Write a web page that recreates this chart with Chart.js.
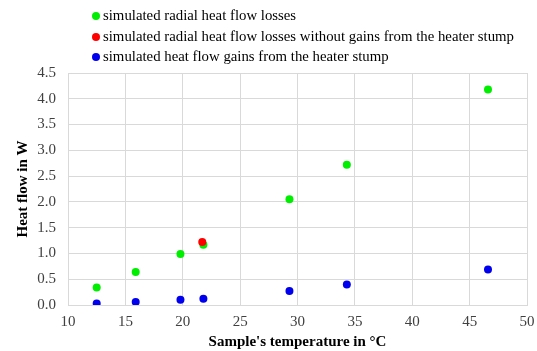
<!DOCTYPE html>
<html>
<head>
<meta charset="utf-8">
<script src="https://cdn.jsdelivr.net/npm/chart.js@4"></script>
<style>
  html, body { margin: 0; padding: 0; background: #fff; }
  #wrap { position: relative; width: 537px; height: 351px; }
  #legend { position: absolute; left: 92px; top: 5px; font-family: "Liberation Serif", "Times New Roman", serif; font-size: 14.8px; color: #000; }
  #legend div { height: 20.5px; line-height: 20.5px; white-space: nowrap; }
  #legend span.dot { display: inline-block; width: 8px; height: 8px; border-radius: 50%; margin-right: 3px; vertical-align: 0px; }
</style>
</head>
<body>
<div id="wrap">
  <canvas id="chart" width="537" height="351"></canvas>
  <div id="legend"></div>
</div>
<script>
const lossTemps = [12.5, 15.9, 19.8, 21.8, 29.3, 34.3, 46.6];
const lossValues = [0.34, 0.64, 0.99, 1.17, 2.05, 2.72, 4.18];

const noStumpTemps = [21.7];
const noStumpValues = [1.22];

const gainTemps = [12.5, 15.9, 19.8, 21.8, 29.3, 34.3, 46.6];
const gainValues = [0.03, 0.06, 0.10, 0.12, 0.27, 0.40, 0.69];

const labels = [
  'simulated radial heat flow losses',
  'simulated radial heat flow losses without gains from the heater stump',
  'simulated heat flow gains from the heater stump',
];
const colors = ['#00ee00', '#ff0000', '#0000ee'];

const toPoints = (xs, ys) => xs.map((x, i) => ({ x, y: ys[i] }));

const datasets = [
  { label: labels[0], data: toPoints(lossTemps, lossValues), backgroundColor: colors[0], order: 3 },
  { label: labels[1], data: toPoints(noStumpTemps, noStumpValues), backgroundColor: colors[1], order: 2 },
  { label: labels[2], data: toPoints(gainTemps, gainValues), backgroundColor: colors[2], order: 1 },
].map(ds => ({ ...ds, borderWidth: 0, pointRadius: 4, pointHoverRadius: 4 }));

document.getElementById('legend').innerHTML = datasets
  .map(ds => `<div><span class="dot" style="background:${ds.backgroundColor}"></span>${ds.label}</div>`)
  .join('');

const serif = 'Liberation Serif';
const tickColor = '#404040';

new Chart(document.getElementById('chart'), {
  type: 'scatter',
  data: { datasets },
  options: {
    responsive: false,
    animation: false,
    layout: { padding: { top: 73, right: 10, left: 0, bottom: 0 } },
    plugins: { legend: { display: false }, tooltip: { enabled: false } },
    scales: {
      x: {
        min: 10,
        max: 50,
        afterFit: scale => {
          scale.height = 46;
          scale.paddingLeft = 0;
          scale.paddingRight = 0;
        },
        ticks: { stepSize: 5, color: tickColor, font: { family: serif, size: 15 }, padding: 8 },
        grid: { color: '#d9d9d9', drawTicks: false },
        border: { color: '#d9d9d9' },
        title: { display: true, text: "Sample's temperature in °C", color: '#000', font: { family: serif, size: 15, weight: 'bold' }, padding: { top: 0, bottom: 0 } },
      },
      y: {
        min: 0,
        max: 4.5,
        afterFit: scale => { scale.width = 68; },
        ticks: { stepSize: 0.5, color: tickColor, font: { family: serif, size: 15 }, padding: 12, callback: v => v.toFixed(1) },
        grid: { color: '#d9d9d9', drawTicks: false },
        border: { color: '#d9d9d9' },
        title: { display: true, text: 'Heat flow in W', color: '#000', font: { family: serif, size: 15, weight: 'bold' }, padding: { top: 14, bottom: 0 } },
      },
    },
  },
});
</script>
</body>
</html>
